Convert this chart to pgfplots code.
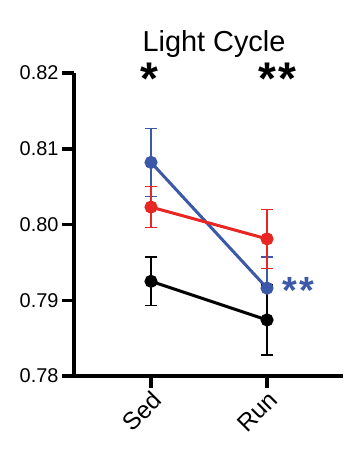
\documentclass[border=0pt]{standalone}
\usepackage{pgfplots}
\pgfplotsset{compat=1.18}
\usepackage{fontspec}
\setmainfont{Liberation Sans}
\definecolor{cblue}{RGB}{59,89,168}
\definecolor{cred}{RGB}{232,39,37}
\begin{document}
\begin{tikzpicture}
\begin{axis}[
  name=ax,
  at={(0,0)}, anchor=south west,
  scale only axis,
  width=269bp, height=303bp,
  xmin=-0.664, xmax=1.655,
  ymin=0.78, ymax=0.82,
  axis lines=left,
  axis line style={-, line width=3.5bp},
  xtick={0,1}, xticklabels={Sed,Run},
  ytick={0.78,0.79,0.80,0.81,0.82},
  yticklabel style={/pgf/number format/.cd, fixed, fixed zerofill, precision=2, assume math mode=true},
  tick style={line width=3.5bp, black},
  major tick length=12bp,
  tick align=outside,
  ticklabel style={font=\fontsize{20}{22}\selectfont},
  xticklabel style={rotate=45, anchor=north east, inner sep=1bp, font=\fontsize{24.5}{26}\selectfont},
  clip=false,
  every axis plot/.append style={line width=3bp},
  error bars/y dir=both, error bars/y explicit,
]
\addplot[cblue, mark=*, mark size=5bp, mark options={solid},
  error bars/error bar style={line width=1.5bp},
  error bars/error mark options={rotate=90, mark size=6bp, line width=1.5bp}]
  coordinates {(0,0.8082) +- (0,0.0045) (1,0.7916) +- (0,0.0041)};
\addplot[cred, mark=*, mark size=5bp,
  error bars/error bar style={line width=1.5bp},
  error bars/error mark options={rotate=90, mark size=6bp, line width=1.5bp}]
  coordinates {(0,0.8023) +- (0,0.0027) (1,0.7981) +- (0,0.0039)};
\addplot[black, mark=*, mark size=5bp,
  error bars/error bar style={line width=1.5bp},
  error bars/error mark options={rotate=90, mark size=6bp, line width=1.5bp}]
  coordinates {(0,0.7925) +- (0,0.0032) (1,0.7874) +- (0,0.0046)};
\node[font=\fontsize{29}{32}\selectfont, inner sep=0] at (axis cs:0.543,0.8238) {Light Cycle};
\node[font=\fontsize{46}{48}\selectfont\bfseries, inner sep=0] at (axis cs:-0.01,0.8192) {*};
\node[font=\fontsize{46}{48}\selectfont\bfseries, inner sep=0] at (axis cs:1.09,0.8192) {*\kern2bp*};
\node[font=\fontsize{38}{40}\selectfont\bfseries, inner sep=0, text=cblue] at (axis cs:1.27,0.79135) {*\kern2bp*};
\end{axis}
\pgfresetboundingbox
\path (ax.south west) ++(-74bp,-74bp) rectangle ++(352bp,450bp);
\end{tikzpicture}
\end{document}
